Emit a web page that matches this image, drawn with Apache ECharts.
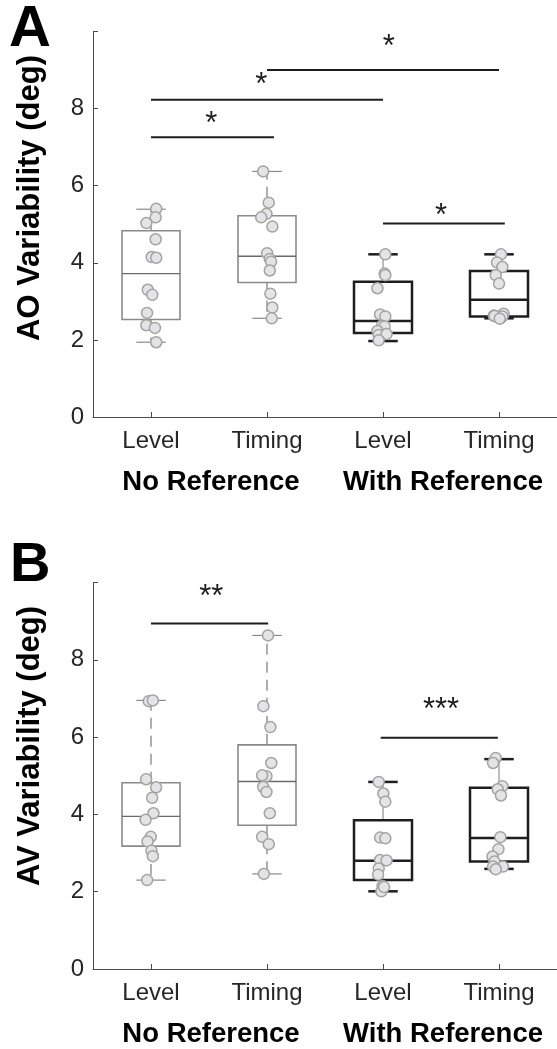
<!DOCTYPE html>
<html><head><meta charset="utf-8">
<script src="https://cdn.jsdelivr.net/npm/echarts@6/dist/echarts.min.js"></script>
<style>html,body{margin:0;padding:0;background:#fff}#c{width:557px;height:1049px}</style>
</head><body><div id="c"></div>
<script>
const FONT = '"Liberation Sans", Arial, Helvetica, sans-serif';
const conditions = ['Level', 'Timing', 'Level', 'Timing'];
const groupNames = ['No Reference', 'With Reference'];
const groupCenters = [1.5, 3.5];
const yTitles = ['AO Variability (deg)', 'AV Variability (deg)'];
const panelLetters = ['A', 'B'];

// ---- Panel A: AO variability (deg) ----
const aoNoRefLevel   = [5.40, 5.18, 5.03, 4.61, 4.15, 4.13, 3.30, 3.17, 2.70, 2.38, 2.31, 1.94];
const aoNoRefLevelJ  = [0.045, 0.04, -0.04, 0.04, 0.006, 0.045, -0.028, 0.011, -0.034, -0.04, 0.034, 0.045];
const aoNoRefTiming  = [6.37, 5.56, 5.27, 5.18, 4.94, 4.25, 4.10, 4.03, 3.80, 3.20, 2.84, 2.56];
const aoNoRefTimingJ = [-0.033, 0.015, -0.005, -0.05, 0.046, 0.001, 0.024, 0.035, 0.024, 0.029, 0.046, 0.041];
const aoRefLevel     = [4.22, 3.72, 3.68, 3.34, 2.66, 2.61, 2.37, 2.35, 2.23, 2.13, 2.15, 1.99];
const aoRefLevelJ    = [0.02, 0.014, 0.02, -0.048, -0.025, 0.02, -0.008, 0.014, -0.048, -0.037, 0.031, -0.037];
const aoRefTiming    = [4.22, 4.01, 3.89, 3.68, 3.46, 2.63, 2.68, 2.60, 2.56, 2.61, 2.62, 2.55];
const aoRefTimingJ   = [0.017, -0.017, 0.029, -0.028, 0, -0.045, 0.04, -0.017, 0.012, 0.029, -0.039, 0.006];
// box stats: [lower whisker, Q1, median, Q3, upper whisker]
const aoBoxes = [
  [1.94, 2.53, 3.72, 4.83, 5.39],
  [2.56, 3.49, 4.17, 5.22, 6.37],
  [1.97, 2.18, 2.49, 3.51, 4.22],
  [2.56, 2.61, 3.04, 3.79, 4.22]
];
// significance bars: [x1, x2, y, starX, starY]
const aoSig = [
  [1.0, 2.06, 7.26, 1.52, 7.60],
  [1.0, 3.0, 8.23, 1.95, 8.60],
  [2.0, 4.0, 9.00, 3.05, 9.58],
  [3.0, 4.05, 5.02, 3.50, 5.20]
];
const aoSigLabels = ['*', '*', '*', '*'];

// ---- Panel B: AV variability (deg) ----
const avNoRefLevel   = [6.93, 6.95, 4.91, 4.70, 4.43, 4.03, 3.86, 3.42, 3.30, 3.06, 2.92, 2.30];
const avNoRefLevelJ  = [-0.019, 0.016, -0.042, 0.044, 0.01, 0.021, -0.047, -0.002, -0.03, 0.004, 0.016, -0.033];
const avNoRefTiming  = [8.63, 6.80, 6.26, 5.33, 4.99, 5.01, 4.71, 4.58, 4.03, 3.42, 3.23, 2.46];
const avNoRefTimingJ = [0.009, -0.031, 0.029, 0.037, -0.005, -0.042, -0.033, -0.005, 0.024, -0.042, 0.015, -0.027];
const avRefLevel     = [4.84, 4.54, 4.33, 3.40, 3.38, 2.82, 2.81, 2.60, 2.44, 2.15, 2.01, 2.12];
const avRefLevelJ    = [-0.037, 0.003, 0.02, -0.025, 0.02, -0.025, 0.031, -0.037, -0.042, -0.003, -0.014, 0.009];
const avRefTiming    = [5.46, 5.33, 4.73, 4.65, 4.49, 3.41, 3.10, 2.91, 2.78, 2.65, 2.65, 2.58];
const avRefTimingJ   = [-0.028, -0.051, 0.029, -0.011, 0.017, 0.012, -0.005, -0.056, -0.039, -0.051, 0.034, -0.028];
const avBoxes = [
  [2.30, 3.18, 3.95, 4.82, 6.95],
  [2.46, 3.72, 4.85, 5.80, 8.63],
  [2.01, 2.30, 2.80, 3.85, 4.84],
  [2.59, 2.78, 3.39, 4.69, 5.43]
];
const avSig = [
  [1.0, 2.01, 8.94, 1.52, 9.62],
  [2.98, 3.99, 5.98, 3.50, 6.68]
];
const avSigLabels = ['**', '***'];

// ---------- styling ----------
const BOX_HALF = 0.25, CAP_HALF = 0.127;
const GRAY = '#8a8a8a', DARK = '#1e1e1e';

function boxRenderer(dark) {
  return function (params, api) {
    const x = api.value(0);
    const lo = api.value(1), q1 = api.value(2), med = api.value(3), q3 = api.value(4), hi = api.value(5);
    const P = (a, b) => api.coord([a, b]);
    const boxCol = dark ? DARK : GRAY;
    const bw = dark ? 2.5 : 1.6;
    const stem = dark
      ? { stroke: '#7a7a7a', lineWidth: 1 }
      : { stroke: '#7a7a7a', lineWidth: 1.2, lineDash: [11, 7] };
    const tl = P(x - BOX_HALF, q3), br = P(x + BOX_HALF, q1);
    const line = (a, b, style) => ({ type: 'line', shape: { x1: a[0], y1: a[1], x2: b[0], y2: b[1] }, style: style });
    return {
      type: 'group',
      children: [
        line(P(x, q3), P(x, hi), stem),
        line(P(x, q1), P(x, lo), stem),
        line(P(x - CAP_HALF, hi), P(x + CAP_HALF, hi), { stroke: dark ? DARK : GRAY, lineWidth: dark ? 2.5 : 1.2 }),
        line(P(x - CAP_HALF, lo), P(x + CAP_HALF, lo), { stroke: dark ? DARK : GRAY, lineWidth: dark ? 2.5 : 1.2 }),
        { type: 'rect', shape: { x: tl[0], y: tl[1], width: br[0] - tl[0], height: br[1] - tl[1] },
          style: { fill: 'rgba(0,0,0,0)', stroke: boxCol, lineWidth: bw } },
        line(P(x - BOX_HALF, med), P(x + BOX_HALF, med), { stroke: dark ? DARK : '#6a6a6a', lineWidth: dark ? 2.5 : 1.4 })
      ]
    };
  };
}

function sigRenderer(labels) {
  return function (params, api) {
    const a = api.coord([api.value(0), api.value(2)]);
    const b = api.coord([api.value(1), api.value(2)]);
    const s = api.coord([api.value(3), api.value(4)]);
    return {
      type: 'group',
      children: [
        { type: 'line', shape: { x1: a[0], y1: a[1], x2: b[0], y2: b[1] }, style: { stroke: '#1e1e1e', lineWidth: 2 } },
        { type: 'text', x: s[0], y: s[1],
          style: { text: labels[params.dataIndex], fill: '#1e1e1e', font: '31px ' + FONT,
                   textAlign: 'center', textVerticalAlign: 'middle', align: 'center', verticalAlign: 'middle' } }
      ]
    };
  };
}

function groupLabelRenderer(params, api) {
  const p = api.coord([api.value(0), 0]);
  return {
    type: 'text', x: p[0] + 2, y: p[1] + 65,
    style: { text: groupNames[params.dataIndex], fill: '#000', font: 'bold 27.5px ' + FONT,
             textAlign: 'center', textVerticalAlign: 'middle', align: 'center', verticalAlign: 'middle' }
  };
}

function pts(vals, jit, pos) { return vals.map((v, i) => [pos + jit[i], v]); }

function axesFor(idx) {
  const xAxis = {
    type: 'value', gridIndex: idx, min: 0.5, max: 4.5,
    splitLine: { show: false },
    axisLine: { show: true, lineStyle: { color: '#4a4a4a', width: 1 } },
    axisTick: { show: true, inside: true, length: 5, customValues: [1, 2, 3, 4], lineStyle: { color: '#4a4a4a' } },
    axisLabel: { show: true, customValues: [1, 2, 3, 4], margin: 12, color: '#262626', fontSize: 24, fontFamily: FONT,
                 formatter: v => conditions[Math.round(v) - 1] || '' }
  };
  const yAxis = {
    type: 'value', gridIndex: idx, min: 0, max: 10, interval: 2,
    splitLine: { show: false },
    axisLine: { show: true, lineStyle: { color: '#4a4a4a', width: 1 } },
    axisTick: { show: true, inside: true, length: 5, lineStyle: { color: '#4a4a4a' } },
    axisLabel: { margin: 9, color: '#262626', fontSize: 24, fontFamily: FONT,
                 formatter: v => (v === 10 ? '' : String(v)) }
  };
  return [xAxis, yAxis];
}

function seriesFor(idx, boxes, sets, sig, sigLabels) {
  const out = [];
  out.push({ type: 'custom', xAxisIndex: idx, yAxisIndex: idx, renderItem: boxRenderer(false), clip: false, z: 2,
             data: boxes.slice(0, 2).map((b, i) => [i + 1].concat(b)) });
  out.push({ type: 'custom', xAxisIndex: idx, yAxisIndex: idx, renderItem: boxRenderer(true), clip: false, z: 2,
             data: boxes.slice(2, 4).map((b, i) => [i + 3].concat(b)) });
  sets.forEach(([vals, jit], i) => {
    out.push({ type: 'scatter', xAxisIndex: idx, yAxisIndex: idx, z: 5, symbol: 'circle', symbolSize: 11,
               itemStyle: { color: '#e4e4e6', borderColor: '#a3a3a3', borderWidth: 1.5, opacity: 1 },
               data: pts(vals, jit, i + 1) });
  });
  out.push({ type: 'custom', xAxisIndex: idx, yAxisIndex: idx, renderItem: sigRenderer(sigLabels), clip: false, z: 6,
             data: sig });
  out.push({ type: 'custom', xAxisIndex: idx, yAxisIndex: idx, renderItem: groupLabelRenderer, clip: false, z: 6,
             data: groupCenters.map(c => [c]) });
  return out;
}

const [xA, yA] = axesFor(0);
const [xB, yB] = axesFor(1);

const option = {
  animation: false,
  backgroundColor: '#fff',
  textStyle: { fontFamily: FONT },
  grid: [
    { left: 93, top: 31.5, height: 385.5, width: 472 },
    { left: 93, top: 582.5, height: 386.5, width: 472 }
  ],
  xAxis: [xA, xB],
  yAxis: [yA, yB],
  graphic: [
    { type: 'text', x: 9, y: 1, style: { text: panelLetters[0], font: 'bold 58px ' + FONT, fill: '#000' } },
    { type: 'text', x: 10, y: 538, style: { text: panelLetters[1], font: 'bold 56px ' + FONT, fill: '#000' } },
    { type: 'text', x: 30, y: 198, rotation: Math.PI / 2,
      style: { text: yTitles[0], font: 'bold 31px ' + FONT, fill: '#000',
               textAlign: 'center', textVerticalAlign: 'middle', align: 'center', verticalAlign: 'middle' } },
    { type: 'text', x: 30, y: 746, rotation: Math.PI / 2,
      style: { text: yTitles[1], font: 'bold 31px ' + FONT, fill: '#000',
               textAlign: 'center', textVerticalAlign: 'middle', align: 'center', verticalAlign: 'middle' } }
  ],
  series: seriesFor(0, aoBoxes,
      [[aoNoRefLevel, aoNoRefLevelJ], [aoNoRefTiming, aoNoRefTimingJ], [aoRefLevel, aoRefLevelJ], [aoRefTiming, aoRefTimingJ]],
      aoSig, aoSigLabels)
    .concat(seriesFor(1, avBoxes,
      [[avNoRefLevel, avNoRefLevelJ], [avNoRefTiming, avNoRefTimingJ], [avRefLevel, avRefLevelJ], [avRefTiming, avRefTimingJ]],
      avSig, avSigLabels))
};

const chart = echarts.init(document.getElementById('c'), null, { renderer: 'canvas' });
chart.setOption(option);
</script>
</body></html>
